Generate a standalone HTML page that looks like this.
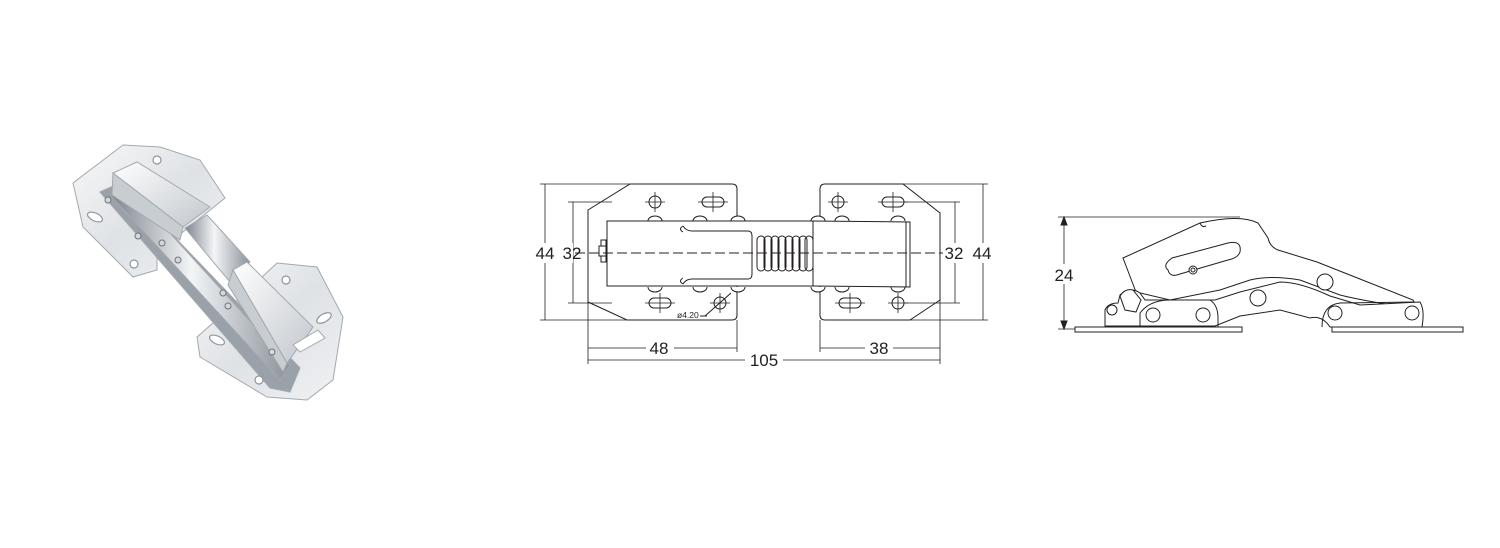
<!DOCTYPE html>
<html><head><meta charset="utf-8"><style>
html,body{margin:0;padding:0;background:#fff;width:1500px;height:548px;overflow:hidden}
svg{display:block}
text{font-family:"Liberation Sans",Arial,sans-serif;fill:#231f20}
</style></head><body>
<svg width="1500" height="548" viewBox="0 0 1500 548" xmlns="http://www.w3.org/2000/svg">
<defs>
<linearGradient id="m1" x1="0" y1="0" x2="1" y2="1"><stop offset="0" stop-color="#f7f8f9"/><stop offset=".5" stop-color="#dfe2e5"/><stop offset="1" stop-color="#f0f2f4"/></linearGradient>
<linearGradient id="m2" x1="0" y1="0" x2="1" y2="0"><stop offset="0" stop-color="#7d848c"/><stop offset=".45" stop-color="#f3f5f7"/><stop offset="1" stop-color="#8a9199"/></linearGradient>
<linearGradient id="m3" x1="0" y1="0" x2="1" y2="1"><stop offset="0" stop-color="#ffffff"/><stop offset="1" stop-color="#c2c7cd"/></linearGradient>
</defs>

<!-- PHOTO (stylized) -->
<g stroke="#a3a9af" stroke-width="1">
<polygon points="123,145 160,147 200,160 225,198 157,253 157,270 133,277 83,227 73,183" fill="url(#m1)"/>
<polygon points="213,323 277,263 317,267 343,317 333,380 307,400 267,397 200,357 197,337" fill="url(#m1)"/>
<polygon points="100,192 122,182 300,368 290,392 270,388" fill="#9aa1a8"/>
<polygon points="110,195 128,187 290,365 280,380" fill="url(#m2)"/>
<polygon points="113,173 137,162 210,207 183,227" fill="url(#m3)"/>
<polygon points="113,173 183,227 180,240 112,195" fill="#c8cdd2"/>
<polygon points="185,228 207,215 250,262 230,282" fill="url(#m2)"/>
<polygon points="233,270 247,262 313,327 287,363" fill="url(#m3)"/>
<polygon points="233,270 287,363 283,372 228,285" fill="#c8cdd2"/>
<polygon points="293,345 318,330 325,338 300,352" fill="#fff"/>
</g>
<g fill="#fff" stroke="#8e959c" stroke-width="1.2">
<circle cx="157" cy="160" r="4"/><ellipse cx="95" cy="217" rx="8" ry="4" transform="rotate(25 95 217)"/><circle cx="134" cy="264" r="4"/>
<circle cx="286" cy="280" r="4"/><ellipse cx="324" cy="318" rx="8" ry="4" transform="rotate(-30 324 318)"/><ellipse cx="217" cy="340" rx="8" ry="4" transform="rotate(25 217 340)"/><circle cx="259" cy="380" r="4"/>
</g>
<g fill="#d5d9dd" stroke="#6d747b"><circle cx="108" cy="200" r="3"/><circle cx="138" cy="236" r="3"/><circle cx="162" cy="243" r="3"/><circle cx="178" cy="260" r="3"/><circle cx="223" cy="293" r="3"/><circle cx="228" cy="306" r="3"/><circle cx="272" cy="352" r="3"/></g>

<!-- PLAN VIEW -->
<g fill="none" stroke="#231f20" stroke-width="1">
<path d="M630,184 H732 Q737,184 737,189 V315 Q737,320 732,320 H627 L588,302 V210 Z"/>
<path d="M825,184 H903 L940,213 V300 L910,320 H825 Q820,320 820,315 V189 Q820,184 825,184 Z"/>
<g fill="#fff">
<path d="M648,221 a7,5 0 0 1 14,0"/><path d="M693,221 a7,5 0 0 1 14,0"/><path d="M731,221 a7,5 0 0 1 14,0"/><path d="M811,221 a7,5 0 0 1 14,0"/><path d="M835,221 a7,5 0 0 1 14,0"/><path d="M891,221 a7,5 0 0 1 14,0"/>
<path d="M648,287 a7,5 0 0 0 14,0"/><path d="M693,287 a7,5 0 0 0 14,0"/><path d="M731,287 a7,5 0 0 0 14,0"/><path d="M811,287 a7,5 0 0 0 14,0"/><path d="M835,287 a7,5 0 0 0 14,0"/><path d="M891,287 a7,5 0 0 0 14,0"/>
</g>
<path d="M607,221 H813 L910,222 V287 L813,286 H607 Z" fill="#fff"/>
<path d="M683,226 Q686,231 692,231 H748 Q752,231 752,236 V274 Q752,279 748,279 H692 Q686,279 683,284"/>
<path d="M683,226 Q678,229 683,232 M683,278 Q678,281 683,284"/>
<line x1="813" y1="221" x2="813" y2="286"/>
<line x1="906" y1="222" x2="906" y2="287"/>
<g>
<rect x="757" y="236" width="8" height="35" rx="4"/><rect x="764" y="236" width="8" height="35" rx="4"/><rect x="771" y="236" width="8" height="35" rx="4"/><rect x="778" y="236" width="8" height="35" rx="4"/><rect x="785" y="236" width="8" height="35" rx="4"/><rect x="792" y="236" width="8" height="35" rx="4"/><rect x="799" y="236" width="8" height="35" rx="4"/><rect x="805" y="236" width="8" height="35" rx="4"/>
</g>
<rect x="601" y="240" width="5" height="6"/><rect x="601" y="256" width="5" height="6"/><rect x="599" y="246" width="7" height="10"/>
<g fill="#fff">
<circle cx="655" cy="202" r="6"/><rect x="702" y="197" width="22" height="10" rx="5"/>
<rect x="649" y="298" width="22" height="10" rx="5"/><circle cx="720" cy="303" r="6"/>
<circle cx="838" cy="202" r="6"/><rect x="882" y="197" width="22" height="10" rx="5"/>
<rect x="839" y="298" width="22" height="10" rx="5"/><circle cx="898" cy="303" r="6"/>
</g>
<g stroke-width=".8">
<path d="M655,192V212M645,202H665M713,192V212M698,202H728M660,293V313M645,303H675M720,293V313M710,303H730"/>
<path d="M838,192V212M828,202H848M893,192V212M878,202H908M850,293V313M835,303H865M898,293V313M888,303H908"/>
</g>
<line x1="705" y1="316" x2="731" y2="293"/><line x1="700" y1="316" x2="707" y2="316"/>
<line x1="575" y1="253" x2="965" y2="253" stroke-dasharray="10,4"/>
<g stroke-width=".8">
<path d="M540,184H630M540,320H627M545,184V320"/>
<path d="M568,202H612M568,303H612M573,202V303"/>
<path d="M825,184H988M910,320H988M983,184V320"/>
<path d="M905,202H960M905,303H960M955,202V303"/>
<path d="M588,302V364M737,320V352M820,320V352M940,300V364"/>
<path d="M588,348H737M820,348H940M588,360H940"/>
</g>
</g>
<g font-size="17" text-anchor="middle">
<rect x="533" y="243" width="40" height="20" fill="#fff"/>
<text x="545" y="259">44</text><text x="572" y="259">32</text>
<rect x="943" y="243" width="50" height="20" fill="#fff"/>
<text x="954" y="259">32</text><text x="982" y="259">44</text>
<rect x="646" y="340" width="28" height="18" fill="#fff"/><text x="659" y="354">48</text>
<rect x="865" y="340" width="28" height="18" fill="#fff"/><text x="879" y="354">38</text>
<rect x="745" y="350" width="38" height="18" fill="#fff"/><text x="764" y="366">105</text>
</g>
<text x="677" y="318" font-size="8.5">ø4.20</text>

<!-- SIDE VIEW -->
<g fill="none" stroke="#231f20" stroke-width="1">
<path d="M1058,217H1240M1058,329H1075M1064,217V329" stroke-width=".8"/>
<path d="M1064,217l-3,8h6z M1064,329l-3,-8h6z" fill="#231f20"/>
<rect x="1075" y="327" width="167" height="5" fill="#fff"/>
<rect x="1332" y="327" width="131" height="5" fill="#fff"/>
<path d="M1123,258 L1200,223 Q1240,214 1258,223 L1268,238 Q1270,247 1278,250 L1317,262 L1413,300 L1417,308 L1392,305 Q1360,300 1340,295 L1300,280 Q1270,275 1250,280 L1220,290 L1170,300 L1136,292 Z" fill="#fff"/>
<path d="M1200,223 Q1202,228 1206,226"/>
<path d="M1168,270 Q1162,265 1172,258 L1228,243 Q1242,240 1240,252 Q1238,258 1228,260 L1180,274 Q1170,278 1168,270Z" fill="#fff"/>
<circle cx="1193" cy="270" r="4" fill="#fff"/><circle cx="1193" cy="270" r="2"/>
<path d="M1105,327 V310 Q1108,303 1118,303 L1120,295 Q1130,286 1140,293 L1145,300 L1215,300 L1240,292 L1280,282 Q1300,282 1330,296 L1360,305 L1420,302 Q1425,310 1422,327 H1330 Q1322,315 1310,318 L1280,310 L1240,316 L1215,326 H1105Z" fill="#fff"/>
<path d="M1140,327 V313 Q1150,300 1170,300 H1210 Q1218,305 1218,318 V327" />
<path d="M1322,327 Q1322,305 1340,303 L1415,302"/>
<circle cx="1325" cy="282" r="8" fill="#fff"/>
<circle cx="1258" cy="298" r="8" fill="#fff"/>
<circle cx="1153" cy="315" r="7" fill="#fff"/>
<circle cx="1203" cy="315" r="7" fill="#fff"/>
<circle cx="1335" cy="313" r="7" fill="#fff"/>
<circle cx="1412" cy="313" r="7" fill="#fff"/>
<circle cx="1112" cy="310" r="5" fill="#fff"/>
<path d="M1120,296 Q1125,288 1133,290 L1141,300 L1136,312 L1125,310Z" fill="#fff"/>
</g>
<rect x="1050" y="264" width="28" height="20" fill="#fff"/>
<text x="1064" y="281" font-size="17" text-anchor="middle">24</text>
</svg>
</body></html>
